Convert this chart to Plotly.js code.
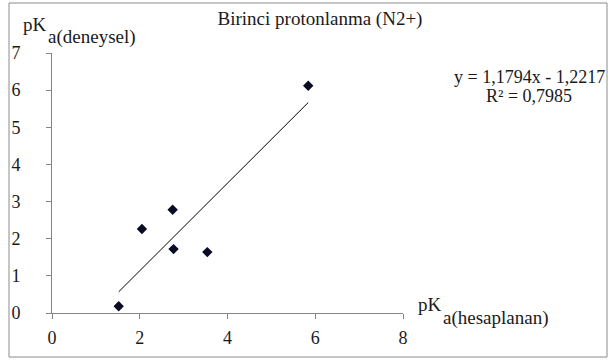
<!DOCTYPE html>
<html>
<head>
<meta charset="utf-8">
<script src="https://cdn.plot.ly/plotly-3.0.1.min.js"></script>
<style>
html,body{margin:0;padding:0;background:#fff;}
#chart{width:611px;height:360px;}
</style>
</head>
<body>
<div id="chart"></div>
<script>
// Data
const pKaHesaplanan = [1.52, 2.05, 2.75, 2.77, 3.54, 5.84];
const pKaDeneysel   = [0.18, 2.26, 2.78, 1.72, 1.64, 6.12];
const xTickVals = [0, 2, 4, 6, 8];
const yTickVals = [0, 1, 2, 3, 4, 5, 6, 7];
const trendSlope = 1.1794;
const trendIntercept = -1.2217;
const rSquared = "0,7985";
const chartTitle = "Birinci protonlanma (N2+)";
const equationText = "y = 1,1794x - 1,2217";

// Trendline spanning the data's x range
const xMin = Math.min(...pKaHesaplanan);
const xMax = Math.max(...pKaHesaplanan);
const trendX = [xMin, xMax];
const trendY = trendX.map(v => trendSlope * v + trendIntercept);

const W = 611, H = 360;
const M = {l: 52, r: 208, t: 53, b: 47};
const PW = W - M.l - M.r, PH = H - M.t - M.b;
const px = v => (v - M.l) / PW;          // pixel -> paper x
const py = v => (H - M.b - v) / PH;      // pixel -> paper y

const FONT = "Liberation Serif";
const TXT = "#1a1a1a";

const traces = [
  {
    x: trendX, y: trendY, type: 'scatter', mode: 'lines',
    line: {color: '#000000', width: 1}, hoverinfo: 'skip', showlegend: false
  },
  {
    x: pKaHesaplanan, y: pKaDeneysel, type: 'scatter', mode: 'markers',
    marker: {symbol: 'diamond', size: 8, color: '#0b0b26'}, showlegend: false
  }
];

function ann(text, xPix, yPix, size, xanchor) {
  return {
    text: text, xref: 'paper', yref: 'paper', x: px(xPix), y: py(yPix),
    xanchor: xanchor || 'left', yanchor: 'middle', showarrow: false,
    font: {family: FONT, size: size, color: TXT}
  };
}

const layout = {
  width: W, height: H,
  margin: M,
  font: {family: FONT, color: TXT},
  paper_bgcolor: '#ffffff', plot_bgcolor: '#ffffff',
  showlegend: false,
  title: {
    text: chartTitle, xref: 'container', yref: 'container',
    x: 320 / W, y: 1 - 18 / H, xanchor: 'center', yanchor: 'middle',
    font: {family: FONT, size: 19, color: TXT}
  },
  xaxis: {
    range: [0, 8], tickvals: xTickVals, ticktext: xTickVals.map(String),
    showgrid: false, zeroline: false, showline: true, linecolor: '#868686', linewidth: 1,
    ticks: 'outside', ticklen: 5, tickcolor: '#868686', ticklabelstandoff: 3,
    tickfont: {family: FONT, size: 18, color: TXT}, fixedrange: true
  },
  yaxis: {
    range: [0, 7], tickvals: yTickVals, ticktext: yTickVals.map(String),
    showgrid: false, zeroline: false, showline: true, linecolor: '#868686', linewidth: 1,
    ticks: 'outside', ticklen: 5, tickcolor: '#868686', ticklabelstandoff: 22,
    tickfont: {family: FONT, size: 18, color: TXT}, fixedrange: true
  },
  annotations: [
    ann('pK', 21, 25, 19),
    ann('a(deneysel)', 46, 37, 19),
    ann('pK', 416, 304, 19),
    ann('a(hesaplanan)', 441, 318, 19),
    ann(equationText, 529, 77, 18, 'center'),
    ann('R² = ' + rSquared, 529, 96, 18, 'center')
  ],
  shapes: [
    {type: 'rect', xref: 'paper', yref: 'paper',
     x0: px(9), x1: px(607), y0: py(357), y1: py(3),
     line: {color: '#8c8c8c', width: 1}, fillcolor: 'rgba(0,0,0,0)', layer: 'above'}
  ]
};

Plotly.newPlot('chart', traces, layout, {displayModeBar: false, staticPlot: true});
</script>
</body>
</html>
